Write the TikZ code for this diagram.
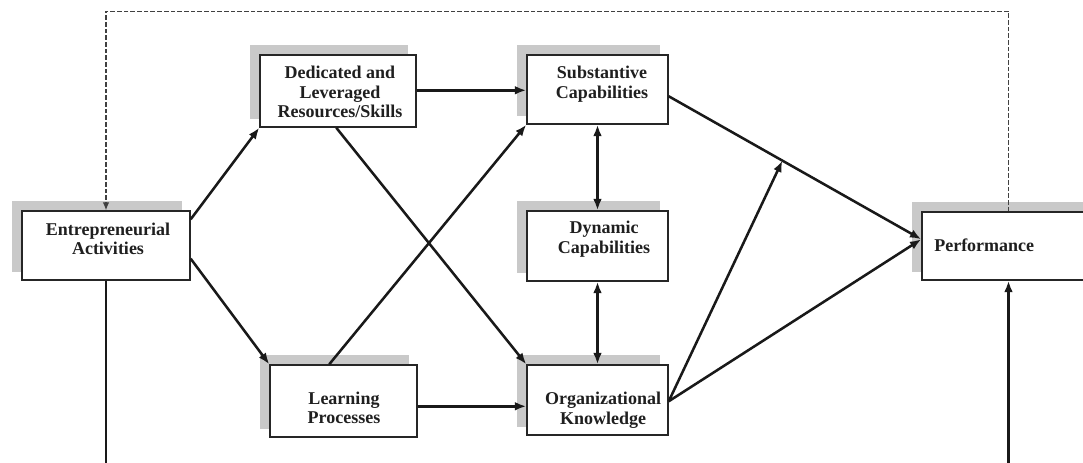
\documentclass[tikz,border=0pt]{standalone}
\usepackage{fontspec}
\setmainfont{Liberation Serif}
\usetikzlibrary{arrows.meta,fit,calc}
\begin{document}
\begin{tikzpicture}[x=0.75pt,y=-0.75pt,
  box/.style={draw=black!85,line width=1.1pt,fill=white,inner sep=0pt},
  backshade/.style={fill=black!21},
  lbl/.style={font=\fontsize{13.5}{14.6}\selectfont\bfseries,align=center,inner sep=0pt,text=black!88},
  link/.style={line width=1.9pt,draw=black!90,-{Latex[length=8.5pt,width=6.5pt]}},
  twoway/.style={line width=1.9pt,draw=black!90,{Latex[length=8.5pt,width=6.5pt]}-{Latex[length=8.5pt,width=6.5pt]}},
  feedback/.style={line width=0.9pt,draw=black!75,dash pattern=on 3.5pt off 1.5pt},
]
\useasboundingbox (0,0) rectangle (1083,462);

% box with a grey backdrop offset up and to the left
\newcommand\flowbox[5]{%
  \fill[backshade] (#2-10,#3-10) rectangle (#4-8,#5-8);
  \node[box,fit={(#2,#3)(#4,#5)}] (#1) {};
}

\flowbox{ea}{22}{211}{190}{280}
\flowbox{dr}{260}{55}{416}{127}
\flowbox{sc}{527}{55}{668}{124}
\flowbox{dc}{527}{211}{668}{281}
\flowbox{lp}{270}{365}{417}{437}
\flowbox{ok}{527}{365}{668}{435}
\flowbox{pf}{922}{212}{1095}{280}

\node[lbl] (ea-t) at (108,239) {Entrepreneurial\\Activities};
\node[lbl] (dr-t) at (340,92) {Dedicated and\\Leveraged\\Resources/Skills};
\node[lbl] (sc-t) at (602,84) {Substantive\\Capabilities};
\node[lbl] (dc-t) at (604,239) {Dynamic\\Capabilities};
\node[lbl] (lp-t) at (344,408) {Learning\\Processes};
\node[lbl] (ok-t) at (603,410) {Organizational\\Knowledge};
\node[lbl,anchor=west] (pf-t) at (934,245) {Performance};

% connectors
\draw[link] ($(ea.north east)+(0,9)$) -- (dr.south west);
\draw[link] ($(ea.south east)+(0,-22)$) -- (lp.north west);
\draw[link] ($(dr.north east)+(0,36)$) -- ($(sc.north west)+(0,36)$);
\draw[link] ($(dr.south west)+(77,0)$) -- (ok.north west);
\draw[link] ($(lp.north west)+(60,0)$) -- (sc.south west);
\draw[link] ($(lp.north east)+(0,42)$) -- ($(ok.north west)+(0,42)$);
\draw[twoway] (sc.south) -- (dc.north);
\draw[twoway] (dc.south) -- (ok.north);

\coordinate (s1) at ($(sc.north east)+(0,42)$);
\coordinate (p1) at ($(pf.north west)+(0,28)$);
\coordinate (o1) at ($(ok.north east)+(0,37)$);
\draw[link] (s1) -- (p1);
\draw[link] (o1) -- (p1);
\draw[link] (o1) -- ($(s1)!0.45!(p1)$);

% feedback loop and outer links
\draw[feedback,-{Latex[length=6pt,width=5pt]}] (pf.north) -- ++(0,-200) -| (ea.north);
\coordinate (base) at (0,470);
\draw[line width=2.1pt,draw=black!90] (ea.south) -- (ea.south |- base);
\draw[link,line width=2.1pt] (pf.south |- base) -- (pf.south);
\end{tikzpicture}
\end{document}
